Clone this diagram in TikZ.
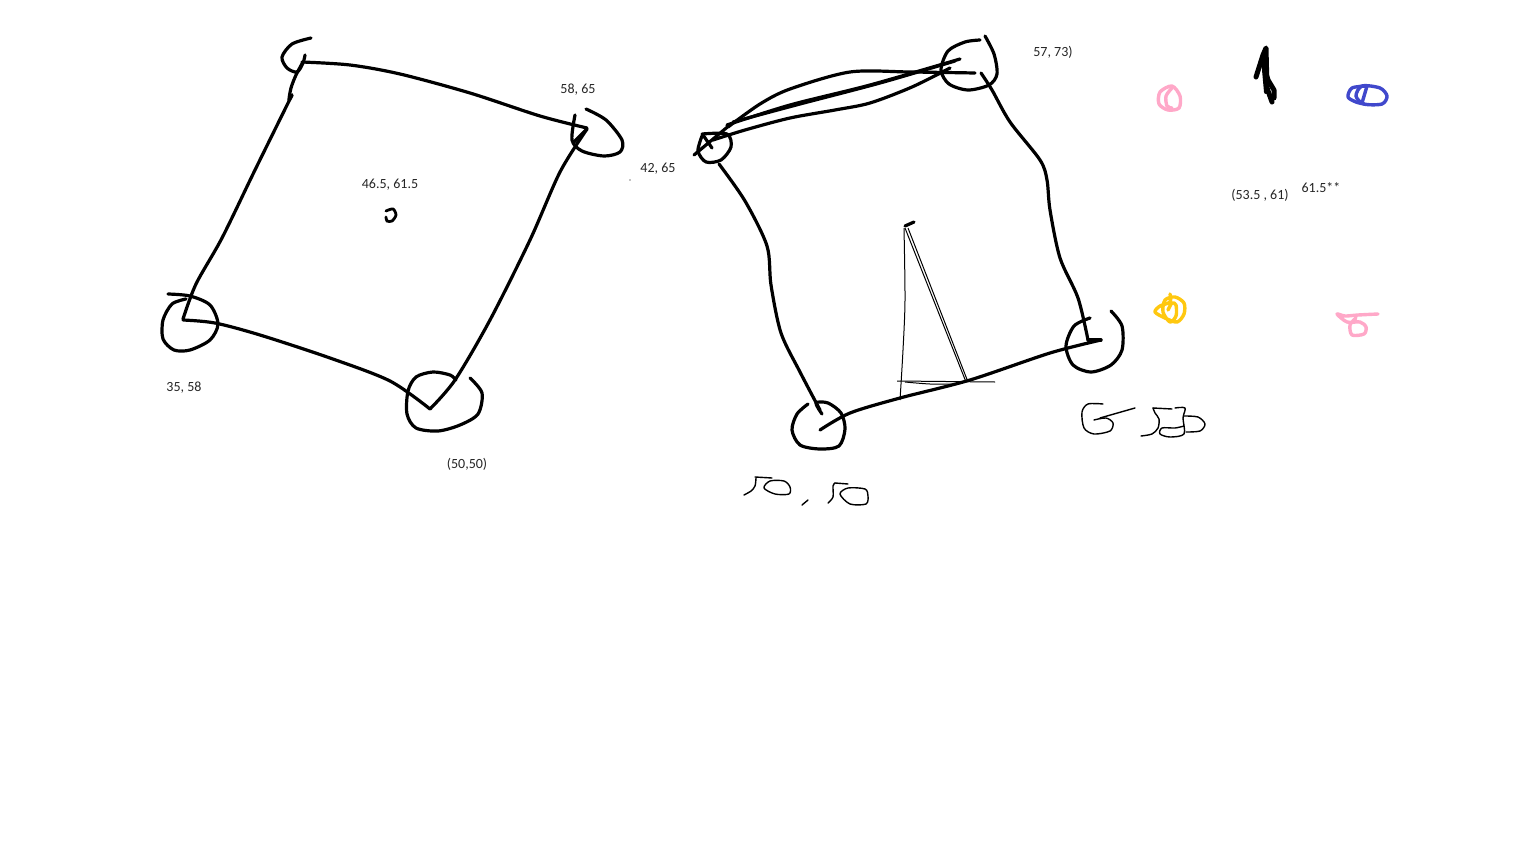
\documentclass[tikz,border=0pt]{standalone}
\usepackage{fontspec}
\setmainfont{Carlito}
\begin{document}
\begin{tikzpicture}[x=1pt,y=-1pt,
  pen/.style={line width=3.2pt,line cap=round,line join=round,black},
  thin pen/.style={line width=1.4pt,line cap=round,line join=round,black},
  lbl/.style={font=\fontsize{14}{16}\selectfont,text=black!85,inner sep=0pt},
  pinkpen/.style={line width=3.4pt,line cap=round,line join=round,color=pinkc},
  bluepen/.style={line width=3.4pt,line cap=round,line join=round,color=bluec},
  yelpen/.style={line width=3.4pt,line cap=round,line join=round,color=yelc}]
\definecolor{pinkc}{RGB}{255,168,200}
\definecolor{bluec}{RGB}{64,72,204}
\definecolor{yelc}{RGB}{255,200,16}
\useasboundingbox[fill=white] (0,0) rectangle (1536,864);

% ---------- left square ----------
\draw[pen] plot[smooth] coordinates {(311,38) (292,44) (282,57) (287,68) (297,72) (303,63) (305,55)};
\draw[pen] plot[smooth] coordinates {(302,62) (350,65) (400,74) (470,93) (540,116) (587,128)};
\draw[pen] plot[smooth] coordinates {(303,62) (296,75) (291,88) (289,100) (292,95)};
\draw[pen] plot[smooth] coordinates {(292,95) (255,170) (222,238) (196,284) (183,319)};
\draw[pen] plot[smooth] coordinates {(168,294) (190,296) (210,305) (218,324) (210,340) (190,350) (174,350) (163,339) (163,320) (172,304) (186,299)};
\draw[pen] plot[smooth] coordinates {(183,320) (215,323) (260,335) (330,358) (390,381) (430,409)};
\draw[pen] plot[smooth] coordinates {(470,378) (482,393) (478,414) (460,425) (438,431) (416,428) (407,414) (408,391) (416,377) (433,372) (450,375) (456,380)};
\draw[pen] plot[smooth] coordinates {(430,409) (455,380) (490,320) (530,240) (560,172) (587,129)};
\draw[pen] (587,129) -- (574,142);
\draw[pen] plot[smooth] coordinates {(586,109) (606,120) (622,140) (620,152) (604,156) (582,151) (572,140) (575,115)};
% center scribble
\draw[line width=2.8pt,line cap=round] plot[smooth] coordinates {(386,211) (393,209) (396,215) (392,221) (387,221) (386,217)};
\fill (630,180) circle (0.6);

% ---------- right quadrilateral ----------
\draw[pen] plot[smooth] coordinates {(702,134) (727,134) (731,147) (721,160) (706,162) (698,151) (702,136)};
\draw[pen] (694,155) -- (731,124);
\draw[pen] (703,135) -- (712,148);
\draw[pen] plot[smooth] coordinates {(728,127) (760,104) (790,89) (850,72) (910,72) (975,73)};
\draw[pen] plot[smooth] coordinates {(727,125) (790,105) (870,85) (960,59)};
\draw[pen] plot[smooth] coordinates {(733,122) (800,104) (880,83) (955,61)};
\draw[pen] plot[smooth] coordinates {(713,140) (745,130) (790,118) (835,110) (870,103) (912,87) (950,68)};
\draw[pen] plot[smooth] coordinates {(985,36) (994,54) (997,74) (989,85) (968,90) (949,84) (941,70) (948,51) (965,42) (980,40)};
\draw[pen] plot[smooth] coordinates {(981,73) (992,90) (1010,122) (1040,160) (1047,180) (1050,210) (1060,258) (1078,298) (1088,340)};
\draw[pen] plot[smooth] coordinates {(1111,311) (1122,326) (1122,350) (1111,365) (1091,372) (1073,365) (1066,346) (1074,326) (1090,318)};
\draw[pen] (1088,340) -- (1101,340);
\draw[pen] plot[smooth] coordinates {(1101,340) (1050,353) (970,380) (900,398) (850,413) (820,430)};
\draw[pen] plot[smooth] coordinates {(822,414) (816,403) (828,403) (841,413) (845,429) (839,446) (820,449) (800,445) (792,430) (797,414) (808,404)};
\draw[pen] plot[smooth] coordinates {(820,410) (800,372) (781,333) (771,285) (767,246) (745,201) (719,164)};
% triangle
\draw[line width=3.2pt,line cap=round] (905,226) -- (914,222);
\draw[line width=1pt] plot[smooth] coordinates {(904,228) (905,300) (903,350) (900,400)};
\draw[line width=1pt] (905,228) -- (966,382);
\draw[line width=1pt] (908,228) -- (968,382);
\draw[line width=1pt] (897,381) -- (995,382);
\draw[line width=1pt] plot[smooth] coordinates {(905,382) (930,384) (955,384)};

% ---------- doodles ----------
\draw[pinkpen] plot[smooth cycle] coordinates {(1172,86) (1180,96) (1179,108) (1168,110) (1159,104) (1160,92)};
\draw[pinkpen] plot[smooth] coordinates {(1172,88) (1166,96) (1167,106) (1172,108)};
\draw[line width=5pt,line cap=round,line join=round] plot coordinates {(1256,77) (1263,55) (1266,48) (1267,88) (1272,102)};
\draw[line width=5pt,line cap=round,line join=round] plot coordinates {(1262,60) (1268,80) (1274,90) (1274,98)};
\draw[line width=4pt,line cap=round] (1264,70) -- (1266,92);
\draw[bluepen] plot[smooth cycle] coordinates {(1362,86) (1380,88) (1387,96) (1382,104) (1364,104) (1356,96)};
\draw[bluepen] plot[smooth] coordinates {(1366,86) (1352,88) (1348,97) (1356,102) (1364,104)};
\draw[bluepen] (1367,86) -- (1362,103);
\draw[yelpen] plot[smooth] coordinates {(1170,294) (1170,302) (1160,306) (1155,312) (1165,318) (1177,322) (1184,314) (1184,303) (1175,297) (1165,300) (1163,312) (1170,322) (1176,316) (1176,305) (1172,303) (1168,310)};
\draw[pinkpen] plot[smooth] coordinates {(1378,314) (1358,315) (1345,316) (1337,314) (1347,322) (1360,322) (1366,327) (1364,334) (1352,335) (1350,325) (1356,318)};

% ---------- handwritten numbers ----------
\draw[thin pen] plot[smooth] coordinates {(744,495) (751,491) (755,486) (756,478)};
\draw[thin pen] (755,477) -- (772,478);
\draw[thin pen] plot[smooth cycle] coordinates {(764,488) (770,481) (784,481) (790,487) (789,494) (775,494)};
\draw[thin pen] (802,505) -- (808,500);
\draw[thin pen] plot[smooth] coordinates {(828,503) (833,497) (833,486) (835,483)};
\draw[thin pen] (835,483) -- (848,484);
\draw[thin pen] plot[smooth cycle] coordinates {(840,494) (848,488) (865,489) (868,496) (866,504) (850,504)};
\draw[thin pen] plot[smooth] coordinates {(1103,404) (1088,404) (1082,412) (1084,428) (1094,434) (1110,431) (1113,423) (1106,418) (1094,420)};
\draw[thin pen] (1100,418) -- (1135,408);
\draw[thin pen] plot[smooth] coordinates {(1141,436) (1152,434) (1158,428) (1159,419) (1155,413) (1153,408)};
\draw[thin pen] (1153,408) -- (1172,409);
\draw[thin pen] plot[smooth] coordinates {(1175,408) (1185,408) (1183,418) (1184,434) (1170,437) (1160,434) (1162,428) (1175,428) (1184,426)};
\draw[thin pen] plot[smooth] coordinates {(1184,416) (1198,417) (1205,424) (1200,431) (1186,432)};

% ---------- labels ----------
\node[lbl] (t1) at (578,90) {58, 65};
\node[lbl] (t2) at (658,169) {42, 65};
\node[lbl] (t3) at (390,185) {46.5, 61.5};
\node[lbl] (t4) at (184,388) {35, 58};
\node[lbl] (t5) at (467,464) {(50,50)};
\node[lbl] (t6) at (1053,52) {57, 73)};
\node[lbl] (t7) at (1260,195) {(53.5 , 61)};
\node[lbl] (t8) at (1321,188) {61.5**};
\end{tikzpicture}
\end{document}
